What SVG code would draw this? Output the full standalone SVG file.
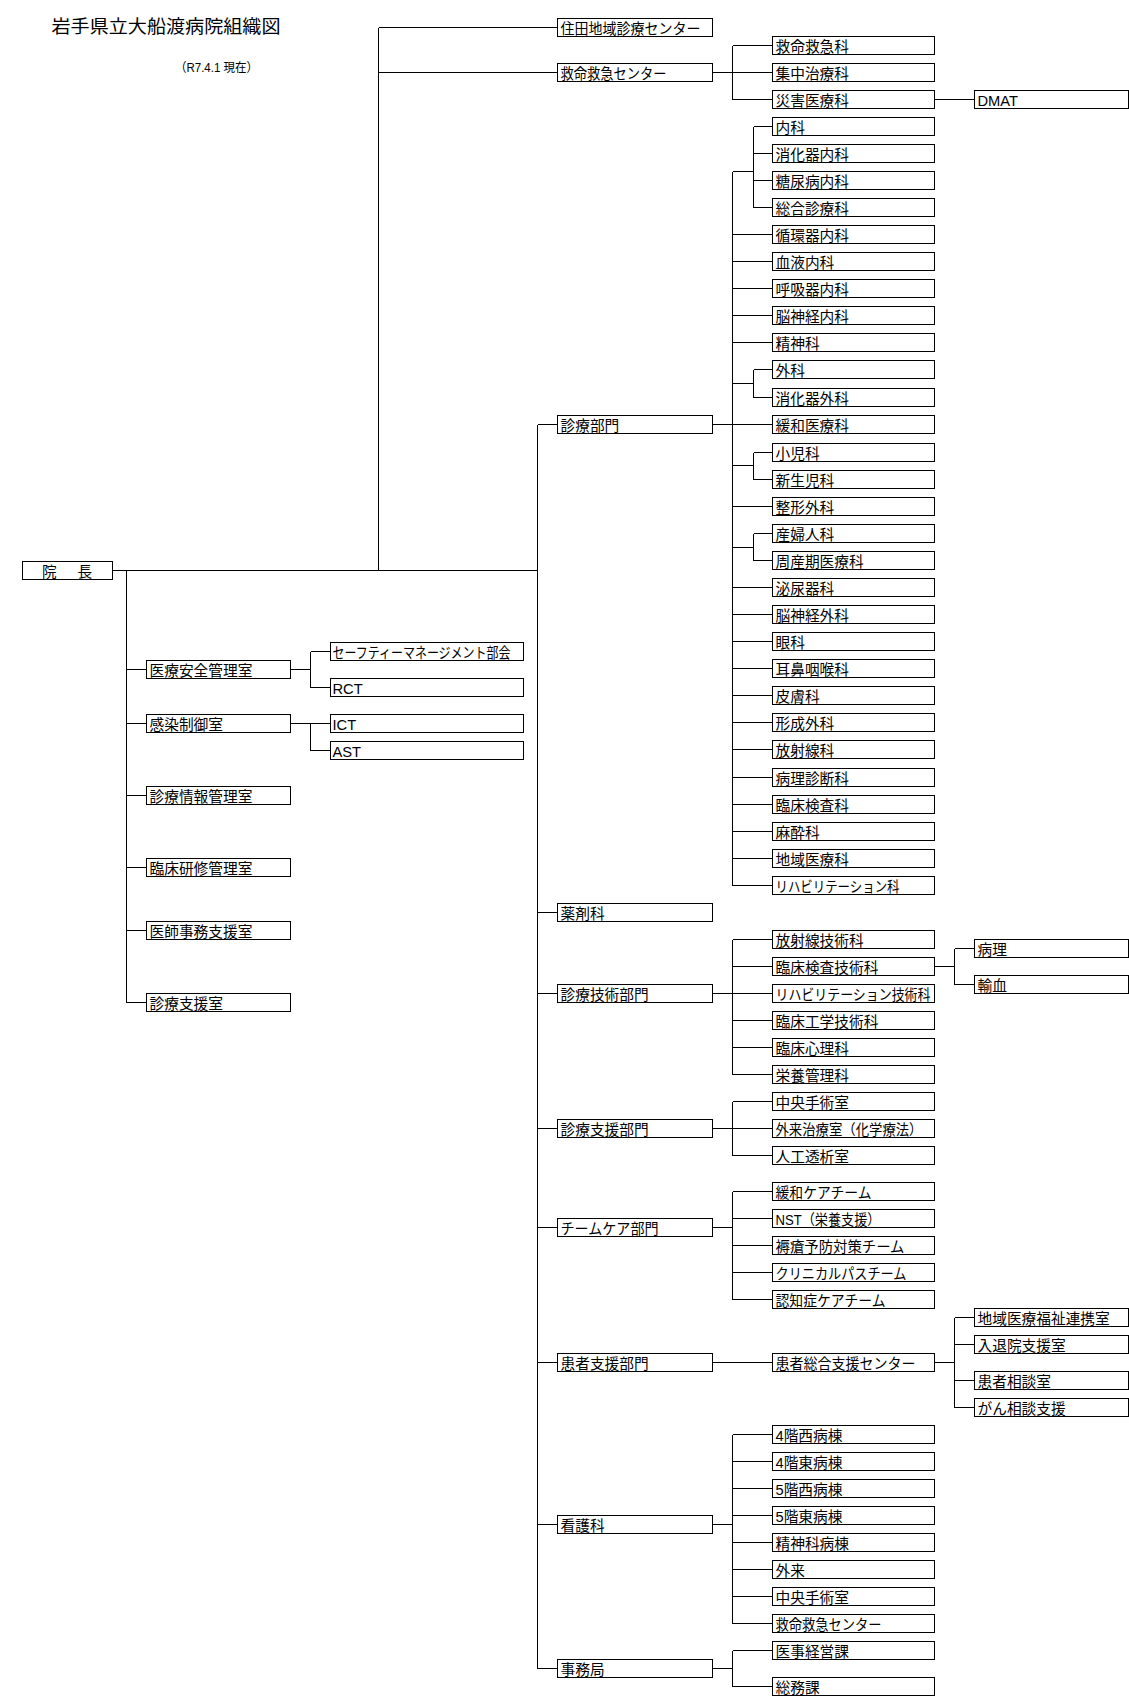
<svg xmlns="http://www.w3.org/2000/svg" width="1129" height="1705" viewBox="0 0 1129 1705">
<style>
.b{fill:#fff;stroke:#000;stroke-width:1;shape-rendering:crispEdges}
.t{font-family:"Liberation Sans","Noto Sans CJK JP",sans-serif;font-size:14.7px;fill:#000}
.c{fill:none;stroke:#000;stroke-width:1;shape-rendering:crispEdges}
</style>
<rect x="0" y="0" width="1129" height="1705" fill="#fff"/>
<text id="title" x="51.5" y="33" style="font-family:'Liberation Sans','Noto Sans CJK JP',sans-serif;font-size:18px" textLength="229" lengthAdjust="spacingAndGlyphs">岩手県立大船渡病院組織図</text>
<text id="date" x="175" y="71.5" style="font-family:'Liberation Sans','Noto Sans CJK JP',sans-serif;font-size:12.5px" textLength="83" lengthAdjust="spacingAndGlyphs">（R7.4.1 現在）</text>
<g id="connectors">
<path class="c" d="M378.5 27.5V570.5M378.5 27.5H557.5M378.5 72.5H557.5M112.5 570.5H537.5
M126.5 570.5V1002.5M126.5 669.5H146.5M126.5 723.5H146.5M126.5 795.5H146.5M126.5 867.5H146.5M126.5 930.5H146.5M126.5 1002.5H146.5
M290.5 669.5H310.5M310.5 651.5V687.5M310.5 651.5H330.5M310.5 687.5H330.5
M290.5 723.5H330.5M310.5 723.5V750.5H330.5
M537.5 424.5V1668.5M537.5 424.5H557.5M537.5 912.5H557.5M537.5 993.5H557.5M537.5 1128.5H557.5M537.5 1227.5H557.5M537.5 1362.5H557.5M537.5 1524.5H557.5M537.5 1668.5H557.5
M712.5 72.5H772.5M732.5 45.5V99.5M732.5 45.5H772.5M732.5 99.5H772.5M934.5 99.5H974.5
M712.5 424.5H772.5M732.5 171.5V885.5M732.5 171.5H753.5M753.5 126.5V207.5M753.5 126.5H772.5M753.5 153.5H772.5M753.5 180.5H772.5M753.5 207.5H772.5
M732.5 234.5H772.5M732.5 261.5H772.5M732.5 288.5H772.5M732.5 315.5H772.5M732.5 342.5H772.5
M732.5 383.5H753.5M753.5 369.5V397.5M753.5 369.5H772.5M753.5 397.5H772.5
M732.5 465.5H753.5M753.5 452.5V479.5M753.5 452.5H772.5M753.5 479.5H772.5
M732.5 506.5H772.5
M732.5 547.5H753.5M753.5 533.5V560.5M753.5 533.5H772.5M753.5 560.5H772.5
M732.5 587.5H772.5M732.5 614.5H772.5M732.5 641.5H772.5M732.5 668.5H772.5M732.5 695.5H772.5M732.5 722.5H772.5M732.5 749.5H772.5M732.5 777.5H772.5M732.5 804.5H772.5M732.5 831.5H772.5M732.5 858.5H772.5M732.5 885.5H772.5
M712.5 993.5H772.5M732.5 939.5V1074.5M732.5 939.5H772.5M732.5 966.5H772.5M732.5 1020.5H772.5M732.5 1047.5H772.5M732.5 1074.5H772.5
M934.5 966.5H954.5M954.5 948.5V984.5M954.5 948.5H974.5M954.5 984.5H974.5
M712.5 1128.5H772.5M732.5 1101.5V1155.5M732.5 1101.5H772.5M732.5 1155.5H772.5
M712.5 1227.5H732.5M732.5 1191.5V1299.5M732.5 1191.5H772.5M732.5 1218.5H772.5M732.5 1245.5H772.5M732.5 1272.5H772.5M732.5 1299.5H772.5
M712.5 1362.5H772.5M934.5 1362.5H954.5M954.5 1317.5V1407.5M954.5 1317.5H974.5M954.5 1344.5H974.5M954.5 1380.5H974.5M954.5 1407.5H974.5
M712.5 1524.5H732.5M732.5 1434.5V1623.5M732.5 1434.5H772.5M732.5 1461.5H772.5M732.5 1488.5H772.5M732.5 1515.5H772.5M732.5 1542.5H772.5M732.5 1569.5H772.5M732.5 1596.5H772.5M732.5 1623.5H772.5
M712.5 1668.5H732.5M732.5 1650.5V1686.5M732.5 1650.5H772.5M732.5 1686.5H772.5"/>
</g>
<g id="n-incho"><rect class="b" x="22.5" y="561.5" width="90" height="18"/><text class="t" x="42" y="577" style="letter-spacing:3px">院　長</text></g>
<g id="n-iryoanzen"><rect class="b" x="146.5" y="660.5" width="144" height="18"/><text class="t" x="149.5" y="676">医療安全管理室</text></g>
<g id="n-kansen"><rect class="b" x="146.5" y="714.5" width="144" height="18"/><text class="t" x="149.5" y="730">感染制御室</text></g>
<g id="n-johokanri"><rect class="b" x="146.5" y="786.5" width="144" height="18"/><text class="t" x="149.5" y="802">診療情報管理室</text></g>
<g id="n-kenshu"><rect class="b" x="146.5" y="858.5" width="144" height="18"/><text class="t" x="149.5" y="874">臨床研修管理室</text></g>
<g id="n-ishijimu"><rect class="b" x="146.5" y="921.5" width="144" height="18"/><text class="t" x="149.5" y="937">医師事務支援室</text></g>
<g id="n-shinryoshien-shitsu"><rect class="b" x="146.5" y="993.5" width="144" height="18"/><text class="t" x="149.5" y="1009">診療支援室</text></g>
<g id="n-safety"><rect class="b" x="330.5" y="642.5" width="193" height="18"/><text class="t" x="332.5" y="658" textLength="178" lengthAdjust="spacingAndGlyphs">セーフティーマネージメント部会</text></g>
<g id="n-rct"><rect class="b" x="330.5" y="678.5" width="193" height="18"/><text class="t" x="332.5" y="694">RCT</text></g>
<g id="n-ict"><rect class="b" x="330.5" y="714.5" width="193" height="18"/><text class="t" x="332.5" y="730">ICT</text></g>
<g id="n-ast"><rect class="b" x="330.5" y="741.5" width="193" height="18"/><text class="t" x="332.5" y="757">AST</text></g>
<g id="n-sumita"><rect class="b" x="557.5" y="18.5" width="155" height="18"/><text class="t" x="560.5" y="34" textLength="140" lengthAdjust="spacingAndGlyphs">住田地域診療センター</text></g>
<g id="n-kyumei-center"><rect class="b" x="557.5" y="63.5" width="155" height="18"/><text class="t" x="560.5" y="79" textLength="106" lengthAdjust="spacingAndGlyphs">救命救急センター</text></g>
<g id="n-shinryobumon"><rect class="b" x="557.5" y="415.5" width="155" height="18"/><text class="t" x="560.5" y="431">診療部門</text></g>
<g id="n-yakuzai"><rect class="b" x="557.5" y="903.5" width="155" height="18"/><text class="t" x="560.5" y="919">薬剤科</text></g>
<g id="n-gijutsu"><rect class="b" x="557.5" y="984.5" width="155" height="18"/><text class="t" x="560.5" y="1000">診療技術部門</text></g>
<g id="n-shienbumon"><rect class="b" x="557.5" y="1119.5" width="155" height="18"/><text class="t" x="560.5" y="1135">診療支援部門</text></g>
<g id="n-teamcare"><rect class="b" x="557.5" y="1218.5" width="155" height="18"/><text class="t" x="560.5" y="1234" textLength="98" lengthAdjust="spacingAndGlyphs">チームケア部門</text></g>
<g id="n-kanjashien"><rect class="b" x="557.5" y="1353.5" width="155" height="18"/><text class="t" x="560.5" y="1369">患者支援部門</text></g>
<g id="n-kango"><rect class="b" x="557.5" y="1515.5" width="155" height="18"/><text class="t" x="560.5" y="1531">看護科</text></g>
<g id="n-jimu"><rect class="b" x="557.5" y="1659.5" width="155" height="18"/><text class="t" x="560.5" y="1675">事務局</text></g>
<g id="n-kyumeikyukyu"><rect class="b" x="772.5" y="36.5" width="162" height="18"/><text class="t" x="775.5" y="52">救命救急科</text></g>
<g id="n-shuchu"><rect class="b" x="772.5" y="63.5" width="162" height="18"/><text class="t" x="775.5" y="79">集中治療科</text></g>
<g id="n-saigai"><rect class="b" x="772.5" y="90.5" width="162" height="18"/><text class="t" x="775.5" y="106">災害医療科</text></g>
<g id="n-naika"><rect class="b" x="772.5" y="117.5" width="162" height="18"/><text class="t" x="775.5" y="133">内科</text></g>
<g id="n-shokakinaika"><rect class="b" x="772.5" y="144.5" width="162" height="18"/><text class="t" x="775.5" y="160">消化器内科</text></g>
<g id="n-tonyo"><rect class="b" x="772.5" y="171.5" width="162" height="18"/><text class="t" x="775.5" y="187">糖尿病内科</text></g>
<g id="n-sogo"><rect class="b" x="772.5" y="198.5" width="162" height="18"/><text class="t" x="775.5" y="214">総合診療科</text></g>
<g id="n-junkan"><rect class="b" x="772.5" y="225.5" width="162" height="18"/><text class="t" x="775.5" y="241">循環器内科</text></g>
<g id="n-ketsueki"><rect class="b" x="772.5" y="252.5" width="162" height="18"/><text class="t" x="775.5" y="268">血液内科</text></g>
<g id="n-kokyu"><rect class="b" x="772.5" y="279.5" width="162" height="18"/><text class="t" x="775.5" y="295">呼吸器内科</text></g>
<g id="n-noshinkeinaika"><rect class="b" x="772.5" y="306.5" width="162" height="18"/><text class="t" x="775.5" y="322">脳神経内科</text></g>
<g id="n-seishin"><rect class="b" x="772.5" y="333.5" width="162" height="18"/><text class="t" x="775.5" y="349">精神科</text></g>
<g id="n-geka"><rect class="b" x="772.5" y="360.5" width="162" height="18"/><text class="t" x="775.5" y="376">外科</text></g>
<g id="n-shokakigeka"><rect class="b" x="772.5" y="388.5" width="162" height="18"/><text class="t" x="775.5" y="404">消化器外科</text></g>
<g id="n-kanwairyo"><rect class="b" x="772.5" y="415.5" width="162" height="18"/><text class="t" x="775.5" y="431">緩和医療科</text></g>
<g id="n-shoni"><rect class="b" x="772.5" y="443.5" width="162" height="18"/><text class="t" x="775.5" y="459">小児科</text></g>
<g id="n-shinseiji"><rect class="b" x="772.5" y="470.5" width="162" height="18"/><text class="t" x="775.5" y="486">新生児科</text></g>
<g id="n-seikei"><rect class="b" x="772.5" y="497.5" width="162" height="18"/><text class="t" x="775.5" y="513">整形外科</text></g>
<g id="n-sanfujin"><rect class="b" x="772.5" y="524.5" width="162" height="18"/><text class="t" x="775.5" y="540">産婦人科</text></g>
<g id="n-shusanki"><rect class="b" x="772.5" y="551.5" width="162" height="18"/><text class="t" x="775.5" y="567">周産期医療科</text></g>
<g id="n-hinyoki"><rect class="b" x="772.5" y="578.5" width="162" height="18"/><text class="t" x="775.5" y="594">泌尿器科</text></g>
<g id="n-noshinkeigeka"><rect class="b" x="772.5" y="605.5" width="162" height="18"/><text class="t" x="775.5" y="621">脳神経外科</text></g>
<g id="n-ganka"><rect class="b" x="772.5" y="632.5" width="162" height="18"/><text class="t" x="775.5" y="648">眼科</text></g>
<g id="n-jibi"><rect class="b" x="772.5" y="659.5" width="162" height="18"/><text class="t" x="775.5" y="675">耳鼻咽喉科</text></g>
<g id="n-hifu"><rect class="b" x="772.5" y="686.5" width="162" height="18"/><text class="t" x="775.5" y="702">皮膚科</text></g>
<g id="n-keisei"><rect class="b" x="772.5" y="713.5" width="162" height="18"/><text class="t" x="775.5" y="729">形成外科</text></g>
<g id="n-hoshasen"><rect class="b" x="772.5" y="740.5" width="162" height="18"/><text class="t" x="775.5" y="756">放射線科</text></g>
<g id="n-byori-shindan"><rect class="b" x="772.5" y="768.5" width="162" height="18"/><text class="t" x="775.5" y="784">病理診断科</text></g>
<g id="n-rinsho-kensa"><rect class="b" x="772.5" y="795.5" width="162" height="18"/><text class="t" x="775.5" y="811">臨床検査科</text></g>
<g id="n-masui"><rect class="b" x="772.5" y="822.5" width="162" height="18"/><text class="t" x="775.5" y="838">麻酔科</text></g>
<g id="n-chiiki"><rect class="b" x="772.5" y="849.5" width="162" height="18"/><text class="t" x="775.5" y="865">地域医療科</text></g>
<g id="n-reha"><rect class="b" x="772.5" y="876.5" width="162" height="18"/><text class="t" x="775.5" y="892" textLength="124" lengthAdjust="spacingAndGlyphs">リハビリテーション科</text></g>
<g id="n-hoshasen-gijutsu"><rect class="b" x="772.5" y="930.5" width="162" height="18"/><text class="t" x="775.5" y="946">放射線技術科</text></g>
<g id="n-kensa-gijutsu"><rect class="b" x="772.5" y="957.5" width="162" height="18"/><text class="t" x="775.5" y="973">臨床検査技術科</text></g>
<g id="n-reha-gijutsu"><rect class="b" x="772.5" y="984.5" width="162" height="18"/><text class="t" x="775.5" y="1000" textLength="155" lengthAdjust="spacingAndGlyphs">リハビリテーション技術科</text></g>
<g id="n-kogaku"><rect class="b" x="772.5" y="1011.5" width="162" height="18"/><text class="t" x="775.5" y="1027">臨床工学技術科</text></g>
<g id="n-shinri"><rect class="b" x="772.5" y="1038.5" width="162" height="18"/><text class="t" x="775.5" y="1054">臨床心理科</text></g>
<g id="n-eiyo"><rect class="b" x="772.5" y="1065.5" width="162" height="18"/><text class="t" x="775.5" y="1081">栄養管理科</text></g>
<g id="n-shujutsu1"><rect class="b" x="772.5" y="1092.5" width="162" height="18"/><text class="t" x="775.5" y="1108">中央手術室</text></g>
<g id="n-gairaichiryo"><rect class="b" x="772.5" y="1119.5" width="162" height="18"/><text class="t" x="775.5" y="1135" textLength="147" lengthAdjust="spacingAndGlyphs">外来治療室（化学療法）</text></g>
<g id="n-toseki"><rect class="b" x="772.5" y="1146.5" width="162" height="18"/><text class="t" x="775.5" y="1162">人工透析室</text></g>
<g id="n-kanwacare"><rect class="b" x="772.5" y="1182.5" width="162" height="18"/><text class="t" x="775.5" y="1198" textLength="96" lengthAdjust="spacingAndGlyphs">緩和ケアチーム</text></g>
<g id="n-nst"><rect class="b" x="772.5" y="1209.5" width="162" height="18"/><text class="t" x="775.5" y="1225" textLength="105" lengthAdjust="spacingAndGlyphs">NST（栄養支援）</text></g>
<g id="n-jokuso"><rect class="b" x="772.5" y="1236.5" width="162" height="18"/><text class="t" x="775.5" y="1252" textLength="129" lengthAdjust="spacingAndGlyphs">褥瘡予防対策チーム</text></g>
<g id="n-clinicalpath"><rect class="b" x="772.5" y="1263.5" width="162" height="18"/><text class="t" x="775.5" y="1279" textLength="131" lengthAdjust="spacingAndGlyphs">クリニカルパスチーム</text></g>
<g id="n-ninchisho"><rect class="b" x="772.5" y="1290.5" width="162" height="18"/><text class="t" x="775.5" y="1306" textLength="110" lengthAdjust="spacingAndGlyphs">認知症ケアチーム</text></g>
<g id="n-kanjasogo"><rect class="b" x="772.5" y="1353.5" width="162" height="18"/><text class="t" x="775.5" y="1369" textLength="140" lengthAdjust="spacingAndGlyphs">患者総合支援センター</text></g>
<g id="n-4w"><rect class="b" x="772.5" y="1425.5" width="162" height="18"/><text class="t" x="775.5" y="1441">4階西病棟</text></g>
<g id="n-4e"><rect class="b" x="772.5" y="1452.5" width="162" height="18"/><text class="t" x="775.5" y="1468">4階東病棟</text></g>
<g id="n-5w"><rect class="b" x="772.5" y="1479.5" width="162" height="18"/><text class="t" x="775.5" y="1495">5階西病棟</text></g>
<g id="n-5e"><rect class="b" x="772.5" y="1506.5" width="162" height="18"/><text class="t" x="775.5" y="1522">5階東病棟</text></g>
<g id="n-seishinbyoto"><rect class="b" x="772.5" y="1533.5" width="162" height="18"/><text class="t" x="775.5" y="1549">精神科病棟</text></g>
<g id="n-gairai"><rect class="b" x="772.5" y="1560.5" width="162" height="18"/><text class="t" x="775.5" y="1576">外来</text></g>
<g id="n-shujutsu2"><rect class="b" x="772.5" y="1587.5" width="162" height="18"/><text class="t" x="775.5" y="1603">中央手術室</text></g>
<g id="n-kyumei-center2"><rect class="b" x="772.5" y="1614.5" width="162" height="18"/><text class="t" x="775.5" y="1630" textLength="106" lengthAdjust="spacingAndGlyphs">救命救急センター</text></g>
<g id="n-ijikeiei"><rect class="b" x="772.5" y="1641.5" width="162" height="18"/><text class="t" x="775.5" y="1657">医事経営課</text></g>
<g id="n-somu"><rect class="b" x="772.5" y="1677.5" width="162" height="18"/><text class="t" x="775.5" y="1693">総務課</text></g>
<g id="n-dmat"><rect class="b" x="974.5" y="90.5" width="154" height="18"/><text class="t" x="977.5" y="106">DMAT</text></g>
<g id="n-byori"><rect class="b" x="974.5" y="939.5" width="154" height="18"/><text class="t" x="977.5" y="955">病理</text></g>
<g id="n-yuketsu"><rect class="b" x="974.5" y="975.5" width="154" height="18"/><text class="t" x="977.5" y="991">輸血</text></g>
<g id="n-renkei"><rect class="b" x="974.5" y="1308.5" width="154" height="18"/><text class="t" x="977.5" y="1324">地域医療福祉連携室</text></g>
<g id="n-nyutaiin"><rect class="b" x="974.5" y="1335.5" width="154" height="18"/><text class="t" x="977.5" y="1351">入退院支援室</text></g>
<g id="n-sodan"><rect class="b" x="974.5" y="1371.5" width="154" height="18"/><text class="t" x="977.5" y="1387">患者相談室</text></g>
<g id="n-gansodan"><rect class="b" x="974.5" y="1398.5" width="154" height="18"/><text class="t" x="977.5" y="1414">がん相談支援</text></g>
</svg>
